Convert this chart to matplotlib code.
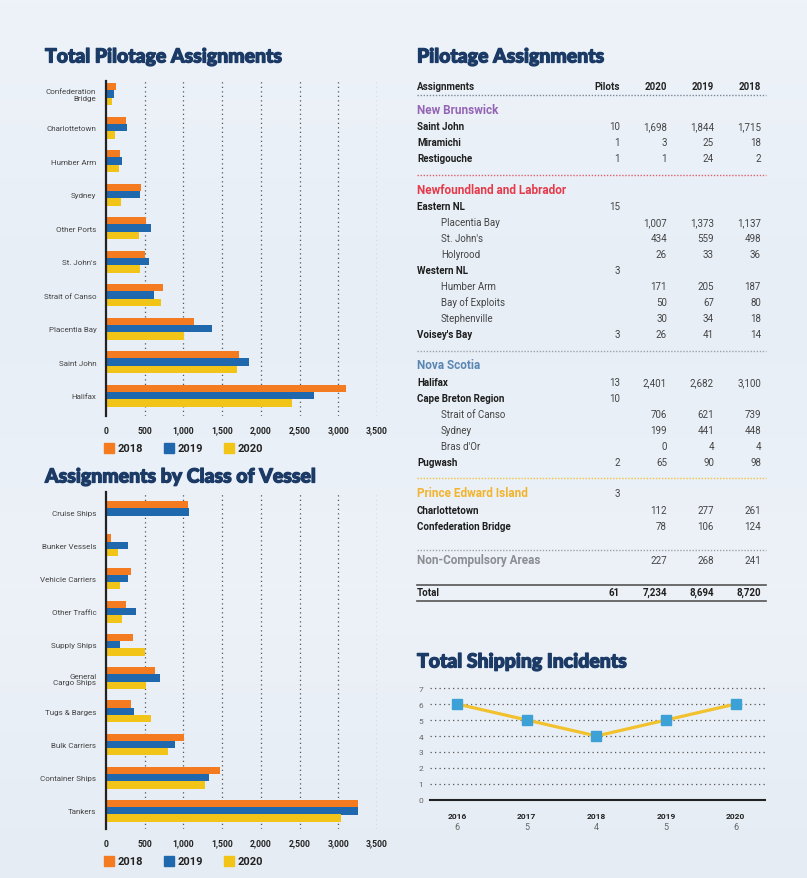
import numpy as np
import matplotlib
matplotlib.use("Agg")
from matplotlib import pyplot as plt
from matplotlib import patheffects
from matplotlib.lines import Line2D
from matplotlib.patches import Rectangle

plt.rcParams['font.family'] = ['Roboto', 'DejaVu Sans']

# ---- data ----
years = ["2018", "2019", "2020"]

port_names = ["Confederation\nBridge", "Charlottetown", "Humber Arm", "Sydney", "Other Ports",
              "St. John's", "Strait of Canso", "Placentia Bay", "Saint John", "Halifax"]
port_2018 = [124, 261, 187, 448, 515, 498, 739, 1137, 1715, 3100]
port_2019 = [106, 277, 205, 441, 585, 559, 621, 1373, 1844, 2682]
port_2020 = [78, 112, 171, 199, 425, 434, 706, 1007, 1698, 2401]

vessel_names = ["Cruise Ships", "Bunker Vessels", "Vehicle Carriers", "Other Traffic", "Supply Ships",
                "General\nCargo Ships", "Tugs & Barges", "Bulk Carriers", "Container Ships", "Tankers"]
vessel_2018 = [1055, 60, 318, 255, 345, 630, 320, 1010, 1475, 3260]
vessel_2019 = [1070, 290, 282, 385, 178, 695, 358, 890, 1335, 3250]
vessel_2020 = [0, 150, 178, 212, 500, 515, 580, 800, 1280, 3030]

incident_years = [2016, 2017, 2018, 2019, 2020]
incidents = [6, 5, 4, 5, 6]

table_labels = ["New Brunswick", "Saint John", "Miramichi", "Restigouche",
                "Newfoundland and Labrador", "Eastern NL", "Placentia Bay", "St. John's", "Holyrood",
                "Western NL", "Humber Arm", "Bay of Exploits", "Stephenville", "Voisey's Bay",
                "Nova Scotia", "Halifax", "Cape Breton Region", "Strait of Canso", "Sydney", "Bras d'Or",
                "Pugwash", "Prince Edward Island", "Charlottetown", "Confederation Bridge",
                "Non-Compulsory Areas", "Total"]
table_kind = ["region", "bold", "bold", "bold",
              "region", "bold", "indent", "indent", "indent",
              "bold", "indent", "indent", "indent", "bold",
              "region", "bold", "bold", "indent", "indent", "indent",
              "bold", "region", "bold", "bold",
              "noncomp", "total"]
table_pilots = [None, 10, 1, 1, None, 15, None, None, None, 3, None, None, None, 3,
                None, 13, 10, None, None, None, 2, 3, None, None, None, 61]
table_2020 = [None, 1698, 3, 1, None, None, 1007, 434, 26, None, 171, 50, 30, 26,
              None, 2401, None, 706, 199, 0, 65, None, 112, 78, 227, 7234]
table_2019 = [None, 1844, 25, 24, None, None, 1373, 559, 33, None, 205, 67, 34, 41,
              None, 2682, None, 621, 441, 4, 90, None, 277, 106, 268, 8694]
table_2018 = [None, 1715, 18, 2, None, None, 1137, 498, 36, None, 187, 80, 18, 14,
              None, 3100, None, 739, 448, 4, 98, None, 261, 124, 241, 8720]

# ---- style ----
W, H = 807, 879
ORANGE = "#f47b20"
BLUE = "#1f68ad"
YELLOW = "#f2c418"
NAVY = "#1b3a66"
region_colors = {"New Brunswick": "#9565b5", "Newfoundland and Labrador": "#e63a4b",
                 "Nova Scotia": "#5b88b3", "Prince Edward Island": "#f1b42c"}

fig = plt.figure(figsize=(W / 100, H / 100), dpi=100)

# soft water-ish background
bg = fig.add_axes([0, 0, 1, 1], zorder=-10)
grad = np.linspace(0, 1, 256).reshape(-1, 1)
bg.imshow(grad, aspect="auto", cmap=matplotlib.colors.LinearSegmentedColormap.from_list(
    "bg", ["#eef3f9", "#e7eef6", "#edf2f8", "#e5ecf4"]), extent=[0, 1, 0, 1])
bg.axis("off")


def px_axes(left, top, right, bottom):
    return fig.add_axes([left / W, 1 - bottom / H, (right - left) / W, (bottom - top) / H])


def ftext(x, y, s, **kw):
    return fig.text(x / W, 1 - y / H, s, **kw)


def title(x, y, s):
    t = ftext(x, y, s, fontsize=14, fontweight="black", color=NAVY, va="center",
              family=["Lato", "DejaVu Sans"])
    t.set_path_effects([patheffects.withStroke(linewidth=0.9, foreground=NAVY)])


def bar_chart(top, bottom, first_center, spacing, names, v18, v19, v20, legend_y):
    ax = px_axes(106, top, 377, bottom)
    ax.patch.set_alpha(0)
    y = np.arange(len(names))
    off = 0.218
    ax.barh(y - off, v18, height=0.22, color=ORANGE, zorder=2)
    ax.barh(y, v19, height=0.22, color=BLUE, zorder=2)
    ax.barh(y + off, v20, height=0.22, color=YELLOW, zorder=2)
    ax.set_xlim(0, 3500)
    ax.set_ylim((bottom - first_center) / spacing, (top - first_center) / spacing)
    for v in range(500, 3501, 500):
        ax.axvline(v, color="#555555", lw=0.9, ls=(0, (1, 2.6)), zorder=0)
    for s in ["top", "right", "bottom"]:
        ax.spines[s].set_visible(False)
    ax.spines["left"].set_linewidth(1.6)
    ax.spines["left"].set_color("#222222")
    ax.set_xticks(range(0, 3501, 500))
    ax.set_xticklabels([f"{v:,}" for v in range(0, 3501, 500)], fontsize=6.2, fontweight="bold",
                       color="#222222")
    ax.set_yticks(y)
    ax.set_yticklabels(names, fontsize=5.8, color="#444444", linespacing=1.1)
    ax.tick_params(axis="x", length=0, pad=7)
    ax.tick_params(axis="y", length=0, pad=7)
    # legend
    for x0, c, yr in [(104, ORANGE, years[0]), (164, BLUE, years[1]), (224, YELLOW, years[2])]:
        fig.patches.append(Rectangle((x0 / W, 1 - (legend_y + 5) / H), 10 / W, 10 / H,
                                     color=c, transform=fig.transFigure))
        ftext(x0 + 14, legend_y, yr, fontsize=8, fontweight="bold", color="#222222", va="center")
    return ax


title(45, 58, "Total Pilotage Assignments")
bar_chart(82, 417, 95, 33.52, port_names, port_2018, port_2019, port_2020, 449)

title(45, 478, "Assignments by Class of Vessel")
bar_chart(493, 830, 513.1, 33.2, vessel_names, vessel_2018, vessel_2019, vessel_2020, 862)

# ---- table ----
title(417, 58, "Pilotage Assignments")
col_x = [620, 667, 714, 761]
ftext(417, 87, "Assignments", fontsize=7, fontweight="bold", color="#222222", va="center")
for x, s in zip(col_x, ["Pilots", "2020", "2019", "2018"]):
    ftext(x, 87, s, fontsize=7, fontweight="bold", color="#222222", va="center", ha="right")

row_y = [111, 127, 143, 159, 191, 207, 223, 239, 255, 271, 287, 303, 319, 335,
         366, 383, 399, 415, 431, 447, 463, 494, 511, 527, 561, 593]
separators = [(96, "#7d8896"), (176, "#e2606e"), (352, "#9aa3ad"), (479, "#f0c243"), (551, "#9aa3ad")]
for yy, c in separators:
    fig.add_artist(Line2D([417 / W, 766 / W], [1 - yy / H] * 2, color=c, lw=1.0,
                          ls=(0, (1, 1.2)), transform=fig.transFigure))
for yy in [586, 602]:
    fig.add_artist(Line2D([417 / W, 766 / W], [1 - yy / H] * 2, color="#555555", lw=1.2,
                          transform=fig.transFigure))

for i, lab in enumerate(table_labels):
    kind = table_kind[i]
    yy = row_y[i]
    if kind == "region":
        ftext(417, yy, lab, fontsize=8.5, fontweight="bold", color=region_colors[lab], va="center")
    elif kind == "noncomp":
        ftext(417, yy, lab, fontsize=8.5, fontweight="bold", color="#8a8e93", va="center")
    elif kind == "indent":
        ftext(441, yy, lab, fontsize=7, color="#444444", va="center")
    else:
        ftext(417, yy, lab, fontsize=7, fontweight="bold", color="#1e1e1e", va="center")
    weight = "bold" if kind == "total" else "normal"
    for x, vals in zip(col_x, [table_pilots, table_2020, table_2019, table_2018]):
        v = vals[i]
        if v is not None:
            ftext(x, yy, f"{v:,}", fontsize=7, fontweight=weight,
                  color="#1e1e1e" if kind == "total" else "#444444", va="center", ha="right")

# ---- line chart ----
title(417, 663, "Total Shipping Incidents")
lx = px_axes(430, 689, 765, 801)
lx.patch.set_alpha(0)
lx.plot(incident_years, incidents, color="#f2c12e", lw=2.3, zorder=3)
lx.plot(incident_years, incidents, ls="none", marker="s", ms=6.5, color="#3ba1d6", zorder=4,
        clip_on=False)
lx.set_xlim(2015.61, 2020.42)
lx.set_ylim(0, 7)
for v in range(1, 8):
    lx.axhline(v, color="#555555", lw=0.9, ls=(0, (1, 2.6)), zorder=0, clip_on=False)
for s in ["top", "right", "left"]:
    lx.spines[s].set_visible(False)
lx.spines["bottom"].set_linewidth(1.5)
lx.spines["bottom"].set_color("#222222")
lx.set_xticks([])
lx.set_yticks(range(8))
lx.tick_params(axis="y", length=0, pad=5, labelsize=6, labelcolor="#666666")
for yr, v in zip(incident_years, incidents):
    lx.text(yr, -0.134, str(yr), transform=lx.get_xaxis_transform(), ha="center", va="center",
            fontsize=6, fontweight="bold", color="#222222")
    lx.text(yr, -0.241, str(v), transform=lx.get_xaxis_transform(), ha="center", va="center",
            fontsize=6.5, color="#666666")

fig.savefig("out.png", dpi=100)
